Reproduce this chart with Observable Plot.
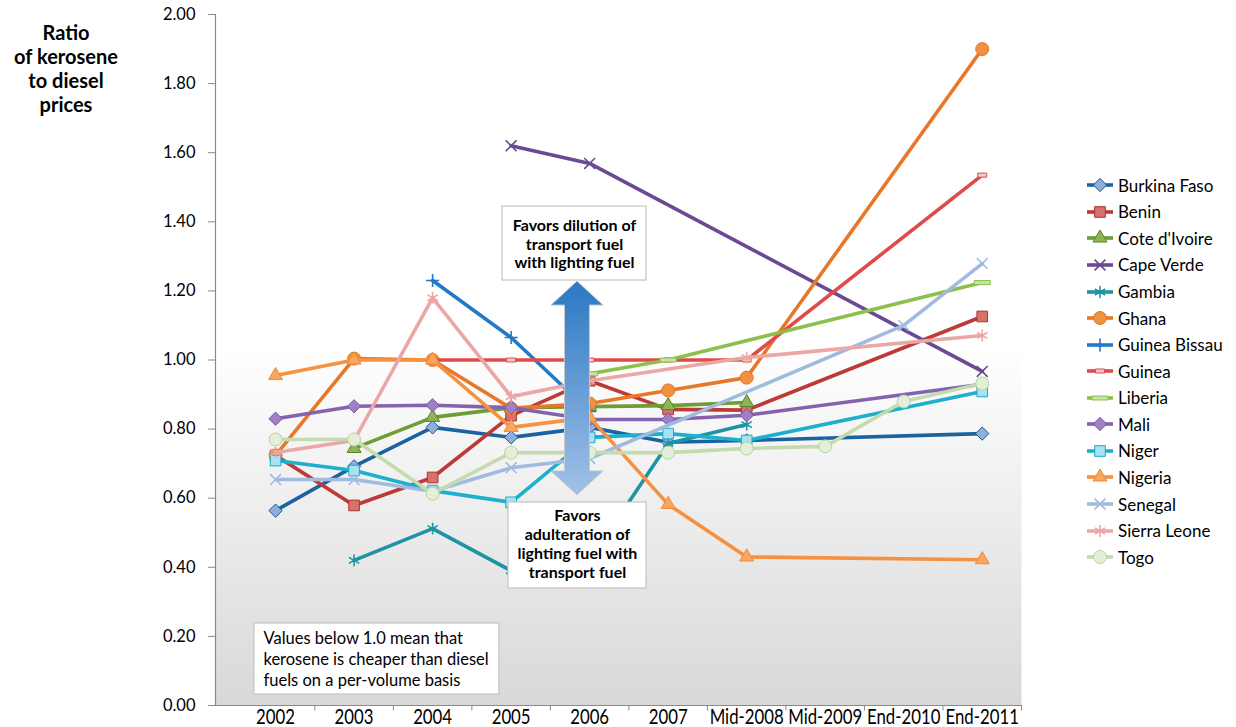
<!DOCTYPE html>
<html>
<head>
<meta charset="utf-8">
<script src="https://cdn.jsdelivr.net/npm/d3@7"></script>
<script src="https://cdn.jsdelivr.net/npm/@observablehq/plot@0.6"></script>
<style>
  body { margin: 0; background: #fff; }
  #wrap { position: relative; width: 1236px; height: 727px; font-family: Lato, "Open Sans", sans-serif; color: #000; }
  #ytitle { position: absolute; left: 0; top: 20px; width: 132px; text-align: center; font-weight: 700; font-size: 20px; line-height: 24px; }
  #legend { position: absolute; left: 1087px; top: 172px; }
  .row { display: flex; align-items: center; height: 26.57px; font-size: 17px; white-space: nowrap; }
  .row svg { margin-right: 5px; overflow: visible; }
</style>
</head>
<body>
<div id="wrap">
  <div id="chart"></div>
  <div id="ytitle">Ratio<br>of kerosene<br>to diesel<br>prices</div>
  <div id="legend"></div>
</div>
<script>
// Reporting periods along the horizontal axis
const periods = ["2002", "2003", "2004", "2005", "2006", "2007", "Mid-2008", "Mid-2009", "End-2010", "End-2011"];

// Ratio of kerosene to diesel prices, one value per period (null = no observation)
const burkinaFaso  = [0.564, 0.692, 0.805, 0.776, 0.805, 0.762, 0.767, null, null, 0.787];
const benin        = [0.724, 0.579, 0.660, 0.839, 0.940, 0.857, 0.855, null, null, 1.126];
const coteDIvoire  = [null, 0.744, 0.834, 0.862, 0.865, 0.868, 0.877, null, null, null];
const capeVerde    = [null, null, null, 1.620, 1.569, null, null, null, null, 0.967];
const gambia       = [null, 0.420, 0.512, 0.390, 0.420, 0.758, 0.813, null, null, null];
const ghana        = [0.724, 1.004, 1.000, 0.860, 0.874, 0.912, 0.949, null, null, 1.900];
const guineaBissau = [null, null, 1.230, 1.065, 0.851, null, null, null, null, null];
const guinea       = [null, null, 1.000, 1.000, 1.000, 1.000, 1.000, null, null, 1.535];
const liberia      = [null, null, null, null, 0.960, 1.000, null, null, null, 1.224];
const mali         = [0.830, 0.866, 0.869, 0.862, 0.828, 0.828, 0.840, null, null, 0.930];
const niger        = [0.709, 0.680, 0.622, 0.588, 0.776, 0.787, 0.767, null, null, 0.909];
const nigeria      = [0.955, 1.000, 1.000, 0.805, 0.834, 0.582, 0.430, null, null, 0.422];
const senegal      = [0.654, 0.654, 0.620, 0.688, 0.715, null, null, null, 1.100, 1.279];
const sierraLeone  = [0.732, 0.767, 1.180, 0.894, 0.940, null, 1.007, null, null, 1.071];
const togo         = [0.770, 0.770, 0.613, 0.732, 0.732, 0.732, 0.744, 0.750, 0.880, 0.932];

const countries = ["Burkina Faso", "Benin", "Cote d'Ivoire", "Cape Verde", "Gambia", "Ghana", "Guinea Bissau",
  "Guinea", "Liberia", "Mali", "Niger", "Nigeria", "Senegal", "Sierra Leone", "Togo"];
const seriesValues = [burkinaFaso, benin, coteDIvoire, capeVerde, gambia, ghana, guineaBissau,
  guinea, liberia, mali, niger, nigeria, senegal, sierraLeone, togo];

// Short and long bar markers
const shortBar = { draw(ctx) { ctx.rect(-4.5, -2, 9, 4); } };
const longBar  = { draw(ctx) { ctx.rect(-8, -2, 16, 4); } };

// Per-series line colour and marker style
const styles = [
  { line: "#1B63A0", symbol: d3.symbolDiamond2, r: 6,   fill: "#8EAEDC", stroke: "#1B5A94" },
  { line: "#BE3A36", symbol: d3.symbolSquare,   r: 6,   fill: "#D8706C", stroke: "#A93431" },
  { line: "#6E9C35", symbol: d3.symbolTriangle, r: 5.2, fill: "#8DB554", stroke: "#5D832C" },
  { line: "#6B4A93", symbol: d3.symbolTimes,    r: 5,   fill: "none",    stroke: "#6B4A93" },
  { line: "#1E93A3", symbol: d3.symbolAsterisk, r: 5.6, fill: "none",    stroke: "#1E93A3" },
  { line: "#E8772A", symbol: d3.symbolCircle,   r: 6.5, fill: "#F0913F", stroke: "#E07A28" },
  { line: "#2379C4", symbol: d3.symbolPlus,     r: 4.3, fill: "none",    stroke: "#2379C4" },
  { line: "#E04A4A", symbol: shortBar,          r: 5,   fill: "#F6C9C9", stroke: "#E04A4A" },
  { line: "#8CC04A", symbol: longBar,           r: 5,   fill: "#C9E2A6", stroke: "#8CC04A" },
  { line: "#8562AE", symbol: d3.symbolDiamond2, r: 6,   fill: "#9E80C3", stroke: "#7A5AA6" },
  { line: "#1DAFCB", symbol: d3.symbolSquare,   r: 6,   fill: "#A8E1F0", stroke: "#1AA8C6" },
  { line: "#F6913F", symbol: d3.symbolTriangle, r: 5.2, fill: "#F9A662", stroke: "#F08A35" },
  { line: "#A1BBE0", symbol: d3.symbolTimes,    r: 5,   fill: "none",    stroke: "#A1BBE0" },
  { line: "#EBA6A6", symbol: d3.symbolAsterisk, r: 5.6, fill: "none",    stroke: "#EBA6A6" },
  { line: "#C3DBAF", symbol: d3.symbolCircle,   r: 6.5, fill: "#E3EFD8", stroke: "#B8D49E" }
];

const xDomain = [-0.765, 9.5];

// Callouts, positioned in data units
const upperNote = { x1: 2.89, x2: 4.724, y1: 1.444, y2: 1.23, tx: 3.807, ty: 1.337,
  text: "Favors dilution of\ntransport fuel\nwith lighting fuel" };
const lowerNote = { x1: 2.966, x2: 4.724, y1: 0.5876, y2: 0.3386, tx: 3.845, ty: 0.4689,
  text: "Favors\nadulteration of\nlighting fuel with\ntransport fuel" };
const baseNote = { x1: -0.269, x2: 2.85, y1: 0.2373, y2: 0.0318, tx: -0.154, ty: 0.136,
  text: "Values below 1.0 mean that\nkerosene is cheaper than diesel\nfuels on a per-volume basis" };
const doubleArrow = { x: 3.845, top: 1.227, bottom: 0.608 };

const rows = seriesValues.map((vals, k) =>
  vals.map((v, i) => ({ name: countries[k], i, v })).filter(d => d.v != null));

const defs = () => {
  const d = d3.create("svg:defs");
  const bg = d.append("linearGradient").attr("id", "plotBg").attr("x1", 0).attr("y1", 0).attr("x2", 0).attr("y2", 1);
  bg.append("stop").attr("offset", "0%").attr("stop-color", "#ffffff");
  bg.append("stop").attr("offset", "48%").attr("stop-color", "#ffffff");
  bg.append("stop").attr("offset", "100%").attr("stop-color", "#d8d8d8");
  const ag = d.append("linearGradient").attr("id", "arrowFill").attr("x1", 0).attr("y1", 0).attr("x2", 0).attr("y2", 1);
  ag.append("stop").attr("offset", "0%").attr("stop-color", "#2A78C3");
  ag.append("stop").attr("offset", "100%").attr("stop-color", "#A3C1E8");
  return d.node();
};

const arrowMark = (index, scales) => {
  const cx = scales.x(doubleArrow.x), t = scales.y(doubleArrow.top), b = scales.y(doubleArrow.bottom);
  const head = 24, hw = 26, sw = 12.5;
  const p = d3.path();
  p.moveTo(cx, t); p.lineTo(cx + hw, t + head); p.lineTo(cx + sw, t + head);
  p.lineTo(cx + sw, b - head); p.lineTo(cx + hw, b - head); p.lineTo(cx, b);
  p.lineTo(cx - hw, b - head); p.lineTo(cx - sw, b - head); p.lineTo(cx - sw, t + head);
  p.lineTo(cx - hw, t + head); p.closePath();
  return d3.create("svg:path").attr("d", p.toString()).attr("fill", "url(#arrowFill)")
    .attr("stroke", "#c9c9c9").attr("stroke-width", 1).node();
};

const noteMarks = (n, opts) => [
  Plot.rect([n], { x1: "x1", x2: "x2", y1: "y1", y2: "y2", fill: "white", stroke: "#c4c4c4", strokeWidth: 1.2 }),
  Plot.text([n], { x: "tx", y: "ty", text: "text", lineAnchor: "middle", fill: "black", fontFamily: "Lato", ...opts })
];

const marks = [
  defs,
  Plot.frame({ fill: "url(#plotBg)", stroke: "none" }),
  Plot.ruleX([xDomain[0]], { stroke: "#8a8a8a", strokeWidth: 1.2 }),
  Plot.ruleY([0], { stroke: "#8a8a8a", strokeWidth: 1.2 }),
  Plot.ruleX(d3.range(10).map(i => i + 0.5), { y1: 0, y2: -0.016, stroke: "#8a8a8a" }),
  Plot.axisY(d3.range(11).map(i => i / 5), {
    tickSize: 7, tickPadding: 13, tickFormat: d3.format(".2f"), stroke: "#8a8a8a", fill: "black",
    fontSize: 16.5, fontFamily: "Lato", label: null
  }),
  Plot.axisX(d3.range(10), {
    tickSize: 0, tickPadding: 4, tickFormat: i => periods[i], fill: "black",
    fontSize: 21, fontFamily: "Lato", label: null
  })
];

rows.forEach((data, k) => {
  const s = styles[k];
  marks.push(Plot.line(data, { x: "i", y: "v", stroke: s.line, strokeWidth: 3.6, strokeLinejoin: "round", strokeLinecap: "round" }));
  marks.push(Plot.dot(data, { x: "i", y: "v", symbol: s.symbol, r: s.r, fill: s.fill, stroke: s.stroke,
    strokeWidth: s.fill === "none" ? 1.6 : 1 }));
});

marks.push(arrowMark);
marks.push(...noteMarks(upperNote, { fontWeight: "bold", fontSize: 16, lineHeight: 1.17 }));
marks.push(...noteMarks(lowerNote, { fontWeight: "bold", fontSize: 16, lineHeight: 1.17 }));
marks.push(...noteMarks(baseNote, { textAnchor: "start", fontSize: 16.5, lineHeight: 1.27 }));

const chart = Plot.plot({
  width: 1236,
  height: 727,
  marginLeft: 215,
  marginRight: 215,
  marginTop: 14,
  marginBottom: 22,
  style: { fontFamily: "Lato", background: "transparent", overflow: "visible" },
  x: { type: "linear", domain: xDomain, label: null },
  y: { domain: [0, 2], label: null },
  marks
});
document.getElementById("chart").appendChild(chart);

// Period labels are set in a condensed style: squeeze each one horizontally about its anchor
d3.select(chart).selectAll('g[aria-label="x-axis tick label"] text').each(function () {
  const x = +(this.getAttribute("x") || 0);
  const t = this.getAttribute("transform") || "";
  this.setAttribute("transform", `${t} translate(${x},0) scale(0.8,1) translate(${-x},0)`);
});

// Legend: line sample with the series marker, then the country name
const legend = d3.select("#legend");
countries.forEach((name, k) => {
  const s = styles[k];
  const row = legend.append("div").attr("class", "row");
  const sw = row.append("svg").attr("width", 26).attr("height", 16);
  sw.append("line").attr("x1", 0).attr("x2", 26).attr("y1", 8).attr("y2", 8)
    .attr("stroke", s.line).attr("stroke-width", 3.6);
  sw.append("path").attr("transform", "translate(13,8)")
    .attr("d", d3.symbol(s.symbol, s.r * s.r * Math.PI)())
    .attr("fill", s.fill).attr("stroke", s.stroke).attr("stroke-width", s.fill === "none" ? 1.6 : 1);
  row.append("span").text(name);
});
</script>
</body>
</html>
